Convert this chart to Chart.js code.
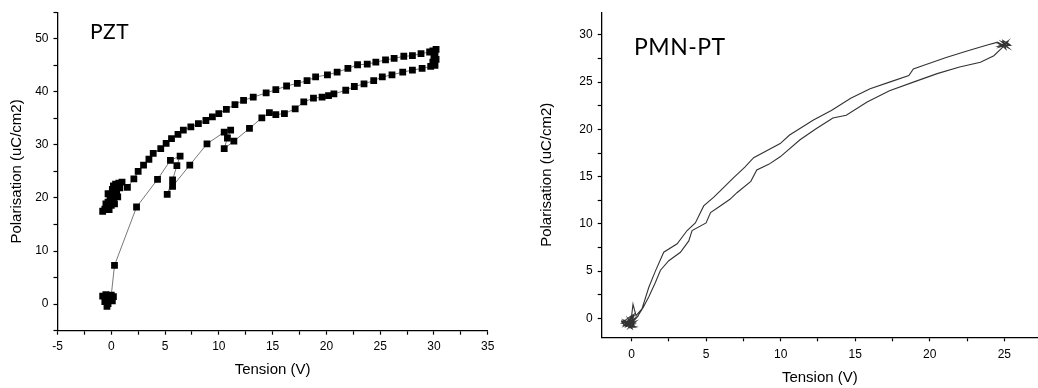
<!DOCTYPE html>
<html>
<head>
<meta charset="utf-8">
<script src="https://cdn.jsdelivr.net/npm/chart.js@4.4.1/dist/chart.umd.min.js"></script>
<style>
  html, body { margin: 0; padding: 0; background: #fff; }
  #wrap { position: relative; width: 1038px; height: 388px; overflow: hidden; }
  #wrap canvas { position: absolute; top: 0; }
  .tag { position: absolute; font-family: Lato, "Open Sans", sans-serif; color: #000; line-height: 1; white-space: nowrap; }
</style>
</head>
<body>
<div id="wrap">
  <canvas id="chart-pzt" width="510" height="388" style="left:0"></canvas>
  <canvas id="chart-pmn" width="508" height="388" style="left:530px"></canvas>
  <div class="tag" style="left:90px;top:20px;font-size:21px;letter-spacing:0.5px">PZT</div>
  <div class="tag" style="left:634px;top:35px;font-size:23px;letter-spacing:0.5px">PMN-PT</div>
</div>
<script>
// PZT loop: origin, first rise, lower branch up to 30 V, upper branch back down
const pztV = [
  -0.8, -0.5, -0.2, -0.6, -0.4, -0.3, 0.1, 0.2, -0.1, 0.0,
  0.3, 2.35, 4.3, 5.5, 6.4, 6.1, 5.7, 5.2, 5.7, 7.3, 8.9, 10.5, 11.1, 10.8, 10.5, 11.4, 12.85,
  14.0, 14.7, 15.3, 16.1, 17.1, 17.9, 18.8, 19.6, 20.2, 20.7, 21.8, 22.6, 23.5, 24.4, 25.2,
  26.1, 27.1, 28.0, 28.9, 29.7,
  30.1, 29.9, 30.2, 30.0, 30.1, 29.9, 30.2, 29.6,
  28.8, 28.0, 27.2, 26.3, 25.5, 24.6, 23.8, 22.9, 22.0, 21.0, 20.1, 19.0, 18.2, 17.3, 16.3,
  15.3, 14.4, 13.2, 12.3, 11.5, 10.7, 10.0, 9.4, 8.8, 8.1, 7.4, 6.7, 6.2, 5.6, 5.1, 4.6,
  3.9, 3.5, 3.0, 2.5, 2.1, 1.5,
  1.0, 0.7, 0.4, 0.8, 0.2, 0.5, 0.1, 0.4, -0.1, 0.2, -0.3, 0.0, -0.4, -0.6, -0.8, -0.2, 0.3, 0.6,
  -0.5, -0.1, 0.1, -0.3,
];
const pztP = [
  1.5, 1.8, 0.8, 0.5, -0.4, 0.1, 0.6, 1.4, 1.2, 1.7,
  7.3, 18.3, 23.5, 27.1, 27.9, 26.1, 23.4, 20.7, 22.2, 26.2, 30.2, 32.4, 32.8, 31.3, 29.3, 30.7, 33.1,
  35.1, 36.1, 35.7, 35.9, 36.8, 38.1, 38.8, 39.0, 39.3, 39.6, 40.3, 41.0, 41.5, 42.1, 42.8,
  43.2, 43.7, 44.1, 44.4, 44.8,
  45.0, 45.6, 46.1, 46.6, 47.2, 47.7, 48.0, 47.5,
  47.2, 46.8, 46.7, 46.3, 46.0, 45.6, 45.2, 45.1, 44.4, 43.7, 43.2, 42.8, 42.1, 41.6, 41.1,
  40.4, 39.8, 39.0, 38.4, 37.6, 36.7, 35.9, 35.3, 34.6, 34.0, 33.4, 32.8, 32.0, 31.2, 30.3, 29.3,
  28.4, 27.3, 26.2, 25.0, 23.6, 22.0,
  23.0, 22.8, 22.6, 21.9, 22.3, 21.3, 21.0, 20.4, 20.0, 19.5, 19.2, 18.6, 18.4, 17.9, 17.5, 17.8, 18.9, 20.2,
  18.9, 19.8, 21.6, 20.8,
];

// PMN-PT loop: noise at origin, rising branch, turn at 25 V, falling branch
const pmnV = [
  -0.3, 0.1, -0.5, 0.2, -0.4, 0.0, -0.6, 0.1, -0.2, 0.3, 0.0, -0.7, 0.2, -0.1, 0.35, -0.45, 0.05,
  -0.25, 0.25, -0.55, 0.15, -0.15,
  0.4, 0.8, 1.16, 1.6, 1.94, 2.5, 3.28, 3.84, 4.06, 5.0, 5.3, 5.95, 6.6, 7.07, 8.0, 8.4, 9.2, 9.97,
  11.3, 12.4, 13.3, 13.5, 14.4, 15.8, 17.3, 18.9, 20.5, 22.0, 23.4, 24.3, 24.9,
  25.2, 24.6, 25.4, 24.8, 25.3, 24.7, 25.1, 24.9, 25.35, 24.65, 25.2, 24.9,
  24.5, 23.8, 22.5, 21.1, 19.8, 18.9, 18.6, 17.3, 16.0, 14.7, 13.4, 12.2, 11.8, 10.6, 9.97,
  8.19, 7.6, 6.85, 5.95, 5.5, 4.84, 4.28, 3.73, 3.06, 2.16, 1.6, 1.16, 0.7, 0.3, 0.1, 0.0,
  -0.3, 0.1, -0.5, 0.2, -0.4, 0.0, -0.65, 0.3, -0.2, 0.15, -0.5, 0.05,
];
const pmnP = [
  -0.5, -0.9, -0.2, -0.6, -0.9, 0.3, -0.4, -0.2, -1.0, -0.3, -0.5, -0.3, -0.8, -0.7, 0.1, -0.6, -1.1,
  0.0, -0.9, -0.7, 0.4, -0.4,
  0.2, 1.2, 2.3, 3.8, 5.1, 6.1, 7.0, 8.2, 9.3, 10.1, 11.2, 11.9, 12.6, 13.3, 14.5, 15.7, 16.3, 17.1,
  18.9, 20.1, 21.0, 21.2, 21.5, 22.9, 24.1, 25.0, 25.9, 26.6, 27.1, 27.8, 28.7,
  29.2, 28.8, 28.9, 29.3, 28.6, 29.1, 28.5, 29.4, 29.0, 28.7, 29.3, 28.8,
  29.2, 28.9, 28.3, 27.6, 26.9, 26.4, 25.7, 25.0, 24.3, 23.3, 22.0, 21.0, 20.6, 19.4, 18.5,
  17.0, 16.0, 14.9, 13.5, 12.8, 11.9, 10.1, 9.3, 7.9, 7.0, 5.0, 3.3, 1.0, 0.3, 1.5, 0.2,
  -0.6, -0.8, -0.3, -0.5, -0.7, -0.2, -0.5, -0.9, -1.0, 0.2, -0.8, -0.4,
];

const xTitle = "Tension (V)";
const yTitle = "Polarisation (uC/cm2)";

(function () {
  const tickFont = { family: "'Liberation Sans', Arial, sans-serif", size: 12 };
  const titleFont = { family: "'Liberation Sans', Arial, sans-serif", size: 15 };

  function toPoints(xs, ys) {
    return xs.map((x, i) => ({ x, y: ys[i] }));
  }

  function axis(o) {
    const horizontal = o.pos === "x";
    return {
      type: "linear",
      position: horizontal ? "bottom" : "left",
      min: o.min,
      max: o.max,
      border: { display: true, color: "#000", width: 1.3 },
      grid: { drawOnChartArea: false, drawTicks: true, tickLength: 4, tickColor: "#000", tickWidth: 1.2 },
      ticks: {
        stepSize: o.step,
        autoSkip: false,
        includeBounds: false,
        maxRotation: 0,
        color: "#000",
        font: tickFont,
        padding: o.pad,
        callback: (v) => (Math.abs(v / o.major - Math.round(v / o.major)) < 1e-6 ? String(Math.round(v)) : ""),
      },
      title: { display: true, text: o.title, color: "#000", font: titleFont, padding: o.titlePad },
      afterFit: (s) => {
        if (horizontal) s.height = o.size;
        else s.width = o.size;
      },
    };
  }

  function makeChart(canvasId, dataset, x, y, padRight) {
    const canvas = document.getElementById(canvasId);
    return new Chart(canvas.getContext("2d"), {
      type: "scatter",
      data: { datasets: [dataset] },
      options: {
        responsive: false,
        animation: false,
        layout: { padding: { top: 9, right: padRight, bottom: 0, left: 0 } },
        plugins: { legend: { display: false }, tooltip: { enabled: false } },
        scales: { x: axis(x), y: axis(y) },
      },
    });
  }

  makeChart("chart-pzt", {
    data: toPoints(pztV, pztP),
    showLine: true,
    borderColor: "#555",
    borderWidth: 0.8,
    pointStyle: "rect",
    pointRadius: 4.8,
    pointBorderWidth: 0,
    pointBackgroundColor: "#000",
  },
  { pos: "x", min: -5, max: 35, step: 2.5, major: 5, pad: 5, size: 57.3, title: xTitle, titlePad: { top: 0, bottom: 9 } },
  { pos: "y", min: -5, max: 55, step: 5, major: 10, pad: 5, size: 57.5, title: yTitle, titlePad: { top: 8, bottom: 0 } },
  22.3);

  makeChart("chart-pmn", {
    data: toPoints(pmnV, pmnP),
    showLine: true,
    borderColor: "#333",
    borderWidth: 1.1,
    pointRadius: 0,
  },
  { pos: "x", min: -2, max: 27.26, step: 2.5, major: 5, pad: 6, size: 50.7, title: xTitle, titlePad: { top: 0, bottom: 1.5 } },
  { pos: "y", min: -2, max: 32.4, step: 2.5, major: 5, pad: 5, size: 71.7, title: yTitle, titlePad: { top: 8, bottom: 0 } },
  0);
})();
</script>
</body>
</html>
